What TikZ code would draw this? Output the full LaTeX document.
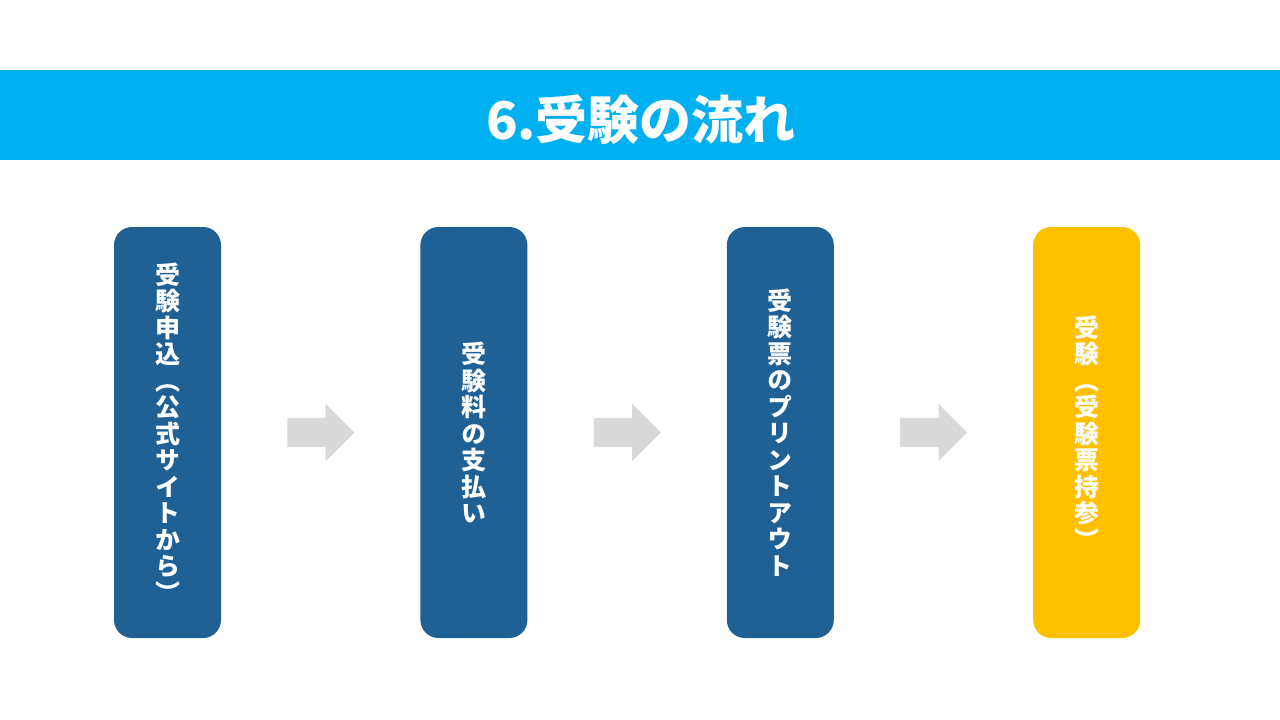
\documentclass[tikz,border=0pt]{standalone}
\usepackage{fontspec}
\newfontfamily\jpfont{Noto Sans CJK JP}
\newfontfamily\jpvert{Noto Sans CJK JP}[RawFeature=+vert]
\usetikzlibrary{positioning,shapes.arrows}
\definecolor{titlecyan}{HTML}{00B0F0}
\definecolor{stepblue}{HTML}{1F6195}
\definecolor{stepgold}{HTML}{FFC000}
\definecolor{arrowgray}{HTML}{D9D9D9}
\tikzset{
  titlebar/.style={fill=titlecyan,draw=none,minimum width=1280pt,minimum height=90pt,
                   inner sep=0pt},
  titletext/.style={text=white,font=\jpfont\bfseries\fontsize{52}{56}\selectfont},
  stepbox/.style={fill=stepblue,draw=none,rounded corners=18pt,minimum width=107pt,
                  minimum height=411pt,inner sep=0pt,align=center,text=white,
                  font=\jpvert\bfseries\fontsize{25}{26.5}\selectfont},
  lastbox/.style={stepbox,fill=stepgold},
  flowarrow/.style={shape=single arrow,fill=arrowgray,draw=none,inner sep=14.5pt,
                    single arrow head extend=14pt,minimum height=67pt},
}
\begin{document}
\begin{tikzpicture}[x=1pt,y=-1pt]
\useasboundingbox (0,0) rectangle (1280,720);
  % title
  \node[titlebar] (bar) at (640,115) {};
  \node[titletext] (title) at (641,120) {6.受験の流れ};
  % steps
  \node[stepbox] (apply) at (167.5,432.5)
    {受\\験\\申\\込\\（\\公\\式\\サ\\イ\\ト\\か\\ら\\）};
  \node[stepbox,right=199pt of apply] (pay)
    {受\\験\\料\\の\\支\\払\\い};
  \node[stepbox,right=199pt of pay] (print)
    {受\\験\\票\\の\\プ\\リ\\ン\\ト\\ア\\ウ\\ト};
  \node[lastbox,right=199pt of print] (exam)
    {受\\験\\（\\受\\験\\票\\持\\参\\）};
  % arrows
  \node[flowarrow,right=66pt of apply] (a1) {};
  \node[flowarrow,right=66pt of pay] (a2) {};
  \node[flowarrow,right=66pt of print] (a3) {};
\end{tikzpicture}
\end{document}
